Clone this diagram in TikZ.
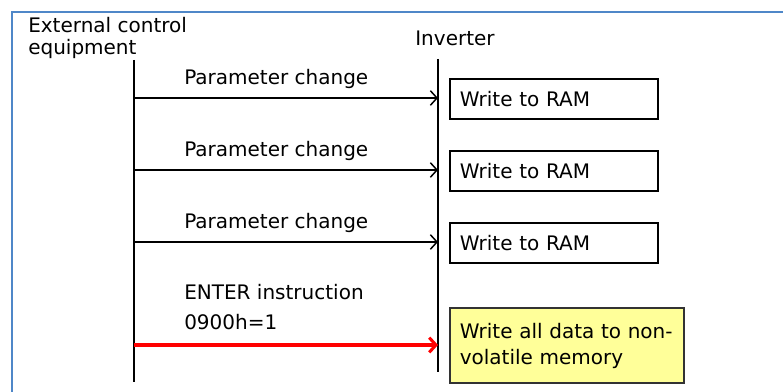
\documentclass[tikz,border=0pt]{standalone}
\usepackage{fontspec}
\setmainfont{DejaVu Sans}
\usetikzlibrary{arrows.meta,positioning}
\definecolor{frameblue}{RGB}{79,135,200}
\definecolor{enterred}{RGB}{255,0,0}
\definecolor{memyellow}{RGB}{255,255,153}

\begin{document}
\begin{tikzpicture}[
    x=0.75pt,
    y=-0.75pt,
    font=\fontsize{15}{16.5}\selectfont,
    lifeline/.style={line width=1.5pt},
    msg/.style={-{Straight Barb[length=5pt,width=11pt]}, line width=1.1pt},
    entermsg/.style={msg, draw=enterred, line width=2.3pt},
    msglabel/.style={anchor=west, inner sep=0pt, align=left},
    ramcell/.style={
      draw, line width=1.2pt, anchor=west, align=left,
      text width=141pt, inner xsep=7.5pt, minimum height=30pt
    },
    nvmcell/.style={
      ramcell, fill=memyellow, draw=black!80, text width=160.5pt,
      minimum height=56.25pt, font=\fontsize{15}{19.5}\selectfont
    }
  ]
  \useasboundingbox (0,0) rectangle (783,392);
  \draw[frameblue, line width=1.8pt] (12,400) -- (12,12) -- (790,12);

  \node[anchor=north west, align=left, inner sep=0pt] (ext) at (28,17)
    {External control\\equipment};
  \node (inv) at (455,38) {Inverter};

  \coordinate (ctop) at (134,60);
  \coordinate (cbot) at (134,382);
  \coordinate (itop) at (438,59);
  \coordinate (ibot) at (438,372);
  \draw[lifeline] (ctop) -- (cbot);
  \draw[lifeline] (itop) -- (ibot);

  \foreach \i/\y in {1/98,2/170,3/242}{
    \coordinate (c\i) at (134,\y);
    \coordinate (i\i) at (438,\y);
    \draw[msg] (c\i) -- (i\i);
    \node[msglabel] (p\i) at (184,\y-19) {Parameter change};
    \node[ramcell] (ram\i) at (449,\y+1) {Write to RAM};
  }

  \coordinate (c4) at (134,345);
  \coordinate (i4) at (438,345);
  \draw[entermsg] (c4) -- (i4);
  \node[msglabel, font=\fontsize{15}{22.5}\selectfont] (enter) at (184,307)
    {ENTER instruction\\0900h=1};
  \node[nvmcell] (nvm) at (449,345.5)
    {Write all data to non-\\volatile memory};
\end{tikzpicture}
\end{document}
